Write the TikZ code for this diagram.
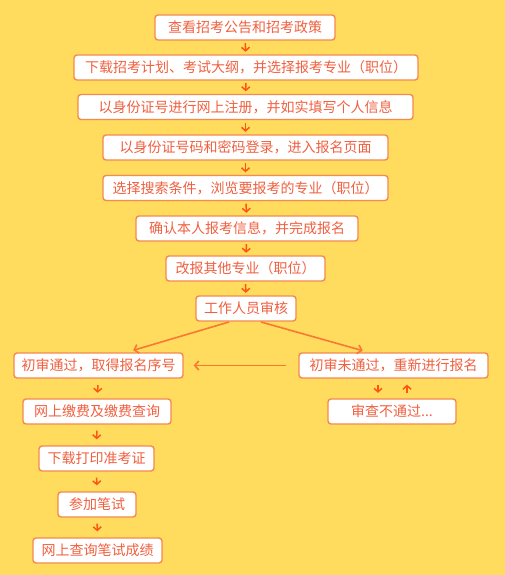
\documentclass[tikz,border=0pt]{standalone}
\usepackage{fontspec}
\setmainfont{Noto Sans CJK SC}
\usetikzlibrary{arrows.meta,positioning}
\definecolor{bgyellow}{RGB}{255,219,94}
\definecolor{boxorange}{RGB}{245,138,78}
\definecolor{textred}{RGB}{240,96,64}
\definecolor{arrowred}{RGB}{255,84,20}
\definecolor{lineorange}{RGB}{250,120,50}
\tikzset{
    stepbox/.style={draw=boxorange, line width=1.4pt, rounded corners=3pt, fill=white,
        text=textred, font=\fontsize{14}{16}\selectfont, minimum height=25pt, inner xsep=2pt, inner ysep=0pt},
    down/.style={arrowred, line width=1.5pt, -{Straight Barb[length=3.5pt,width=8pt]}, shorten <=2.5pt, shorten >=2.5pt},
    slant/.style={lineorange, line width=1.6pt, -{Straight Barb[length=4pt,width=9pt]}}
}

\begin{document}
\begin{tikzpicture}[x=1pt, y=-1pt]
    \fill[bgyellow] (0,0) rectangle (505,575);
    \useasboundingbox (0,0) rectangle (505,575);
    % main column
    \node[stepbox, minimum width=180pt] (notice) at (245,27.5) {查看招考公告和招考政策};
    \node[stepbox, minimum width=344pt] (plan) at (246,67.5) {下载招考计划、考试大纲，并选择报考专业（职位）};
    \node[stepbox, minimum width=335pt] (register) at (245.5,107) {以身份证号进行网上注册，并如实填写个人信息};
    \node[stepbox, minimum width=285pt] (login) at (245.5,147.5) {以身份证号码和密码登录，进入报名页面};
    \node[stepbox, minimum width=285pt] (search) at (245.5,188) {选择搜索条件，浏览要报考的专业（职位）};
    \node[stepbox, minimum width=222pt] (confirm) at (247,228.5) {确认本人报考信息，并完成报名};
    \node[stepbox, minimum width=159pt] (change) at (245.5,268.5) {改报其他专业（职位）};
    \node[stepbox, minimum width=100pt] (check) at (246,308.5) {工作人员审核};
    % two branches
    \node[stepbox, minimum width=169pt] (pass) at (98.5,365.5) {初审通过，取得报名序号};
    \node[stepbox, minimum width=189pt] (fail) at (393.5,365.5) {初审未通过，重新进行报名};
    \node[stepbox, minimum width=128pt] (reject) at (392,411.5) {审查不通过...};
    \node[stepbox, minimum width=148pt] (pay) at (97,411.5) {网上缴费及缴费查询};
    \node[stepbox, minimum width=115pt] (ticket) at (96.5,458.5) {下载打印准考证};
    \node[stepbox, minimum width=78pt] (exam) at (97,504.5) {参加笔试};
    \node[stepbox, minimum width=129pt] (score) at (97.5,550.5) {网上查询笔试成绩};

    \draw[down] (notice) -- (plan);
    \draw[down] (plan) -- (register);
    \draw[down] (register) -- (login);
    \draw[down] (login) -- (search);
    \draw[down] (search) -- (confirm);
    \draw[down] (confirm) -- (change);
    \draw[down] (change) -- (check);
    \draw[slant, shorten <=1pt, shorten >=7pt] ([xshift=-16pt]check.south) -- ([xshift=28pt]pass.north);
    \draw[slant, shorten <=1pt, shorten >=6pt] ([xshift=14pt]check.south) -- ([xshift=-25pt]fail.north);
    \draw[slant, shorten <=12pt, shorten >=10pt] (fail.west) -- (pass.east);
    \draw[down, shorten <=6pt, shorten >=5.5pt] ([xshift=-15.5pt]fail.south) -- ([xshift=-14pt]reject.north);
    \draw[down, shorten <=5.5pt, shorten >=6pt] ([xshift=15pt]reject.north) -- ([xshift=13.5pt]fail.south);
    \draw[down, shorten <=6.5pt, shorten >=5.5pt] (pass) -- (pay);
    \draw[down, shorten <=6pt, shorten >=6pt] (pay) -- (ticket);
    \draw[down, shorten <=6pt, shorten >=6pt] (ticket) -- (exam);
    \draw[down, shorten <=6pt, shorten >=6pt] (exam) -- (score);
\end{tikzpicture}
\end{document}
